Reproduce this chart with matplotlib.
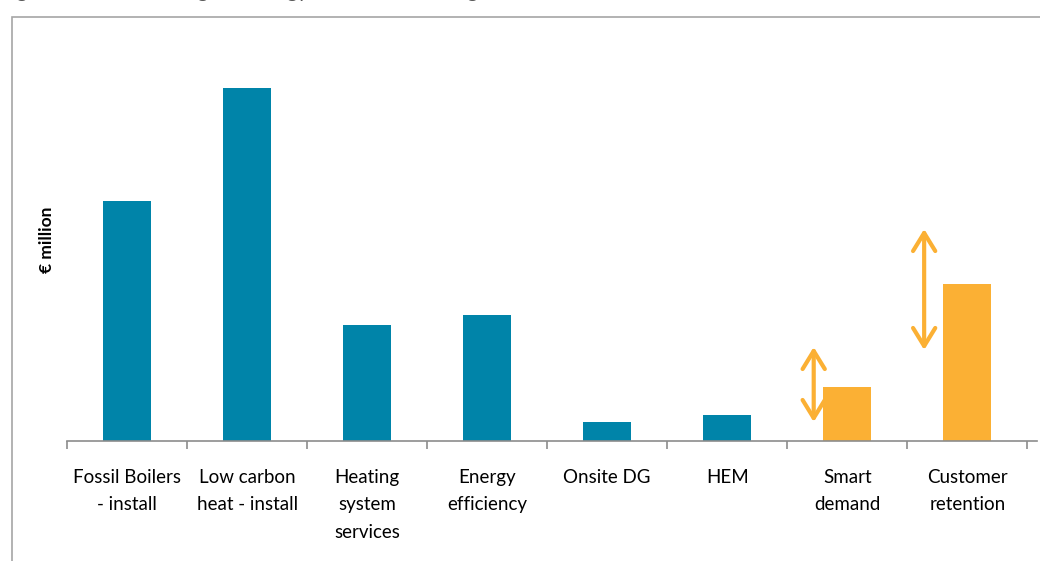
import matplotlib
matplotlib.use('Agg')
from matplotlib import pyplot as plt
from matplotlib.patches import Rectangle

plt.rcParams['font.family'] = ['Lato', 'DejaVu Sans']

categories = ['Fossil Boilers\n- install', 'Low carbon\nheat - install', 'Heating\nsystem\nservices',
              'Energy\nefficiency', 'Onsite DG', 'HEM', 'Smart\ndemand', 'Customer\nretention']
values = [240, 353, 116, 126, 19, 26, 54, 157]
bar_colors = ['#0084A9'] * 6 + ['#FBB034'] * 2

# uncertainty ranges shown as double arrows (category index, low, high)
arrow_cat = [6, 7]
arrow_low = [19, 91]
arrow_high = [94, 212]
arrow_offset = [-0.28, -0.36]

fig = plt.figure(figsize=(10.4, 5.61), dpi=100)

# outer chart border (cropped on right and bottom)
fig.patches.append(Rectangle((12 / 1040, -0.1), 1.2, 1.1 - 17 / 561, transform=fig.transFigure,
                             fill=False, edgecolor='#A6A6A6', lw=1.2))

fig.text(0.0, 1 + 3 / 561, 'Figure 3: Market sizing for energy services to manage demand and retain customers',
         fontsize=15, color='#595959', va='baseline', ha='left')

ax = fig.add_axes([67 / 1040, 1 - 441 / 561, 970 / 1040, 380 / 561])
x = list(range(len(categories)))
ax.bar(x, values, width=0.4, color=bar_colors)

for c, lo, hi, off in zip(arrow_cat, arrow_low, arrow_high, arrow_offset):
    ax.annotate('', xy=(c + off, hi), xytext=(c + off, lo),
                arrowprops=dict(arrowstyle='<->,head_length=1.3,head_width=0.8',
                                color='#FBB034', lw=3, shrinkA=0, shrinkB=0))

ax.set_xlim(-0.48, 7.58)
ax.set_ylim(0, 380)
ax.set_xticks(x)
ax.set_xticklabels(categories, fontsize=13.5, linespacing=1.75, va='top')
ax.set_xticks([i - 0.5 for i in range(len(categories) + 1)], minor=True)
ax.tick_params(axis='x', which='major', length=0, pad=20)
ax.tick_params(axis='x', which='minor', length=6, color='#8C8C8C', width=1.2)
ax.set_yticks([])
for s in ['top', 'right', 'left']:
    ax.spines[s].set_visible(False)
ax.spines['bottom'].set_color('#8C8C8C')
ax.spines['bottom'].set_linewidth(1.2)

fig.text(47 / 1040, 1 - 240 / 561, '€ million', rotation=90, fontsize=12.5, fontweight='bold',
         ha='center', va='center')

fig.savefig('out.png', dpi=100)
